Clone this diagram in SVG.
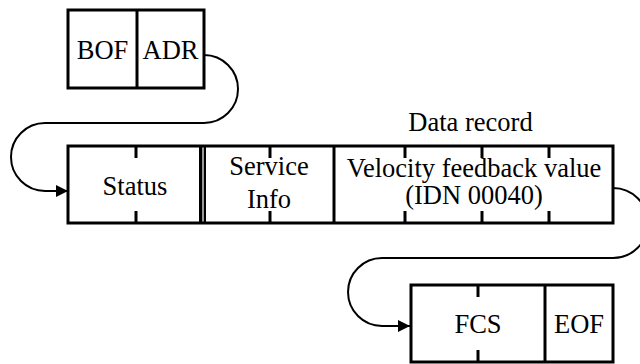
<svg xmlns="http://www.w3.org/2000/svg" width="640" height="364" viewBox="0 0 640 364">
<defs>
<marker id="arr" markerUnits="userSpaceOnUse" markerWidth="12" markerHeight="12" viewBox="0 0 10 10" refX="10" refY="5" orient="auto">
<path d="M0,0 L10,5 L0,10 Z" fill="#000"/>
</marker>
</defs>
<rect width="640" height="364" fill="#fff"/>
<g id="connectors" fill="none" stroke="#000" stroke-width="2">
<path d="M204,55 A34,34 0 0 1 204,123 L45,123 A34,34 0 0 0 45,191 L68,191" marker-end="url(#arr)"/>
<path d="M613,188 A35,35 0 0 1 613,258 L382,258 A34,34 0 0 0 382,326 L410,326" marker-end="url(#arr)"/>
</g>
<g id="top-frame">
<g stroke="#000" stroke-width="3">
<rect x="68" y="10" width="136" height="78" fill="#fff"/>
<line x1="137" y1="10" x2="137" y2="88"/>
</g>
<g font-family="Liberation Serif" font-size="26.5" text-anchor="middle" fill="#000">
<text x="102.5" y="59">BOF</text>
<text x="170.5" y="59">ADR</text>
</g>
</g>
<g id="data-record-label" font-family="Liberation Serif" font-size="26.5" text-anchor="middle" fill="#000">
<text x="470.5" y="131">Data record</text>
</g>
<g id="middle-frame">
<g stroke="#000" stroke-width="3">
<rect x="68" y="146" width="545" height="77" fill="#fff"/>
<line x1="334" y1="146" x2="334" y2="223"/>
<line x1="136" y1="146" x2="136" y2="158"/>
<line x1="136" y1="211" x2="136" y2="223"/>
<line x1="270" y1="146" x2="270" y2="158"/>
<line x1="270" y1="211" x2="270" y2="223"/>
<line x1="405" y1="146" x2="405" y2="158"/>
<line x1="405" y1="211" x2="405" y2="223"/>
<line x1="482" y1="146" x2="482" y2="158"/>
<line x1="482" y1="211" x2="482" y2="223"/>
<line x1="549" y1="146" x2="549" y2="158"/>
<line x1="549" y1="211" x2="549" y2="223"/>
<rect x="199" y="146" width="7" height="77" fill="#000" stroke="none"/>
<rect x="202" y="147.5" width="2" height="74" fill="#999" stroke="none"/>
</g>
<g font-family="Liberation Serif" font-size="26.5" text-anchor="middle" fill="#000">
<text x="135" y="195">Status</text>
<text x="269" y="175">Service</text>
<text x="269" y="208">Info</text>
<text x="474" y="177">Velocity feedback value</text>
<text x="474" y="204">(IDN 00040)</text>
</g>
</g>
<g id="bottom-frame">
<g stroke="#000" stroke-width="3">
<rect x="411" y="285" width="202" height="77" fill="#fff"/>
<line x1="545" y1="285" x2="545" y2="362"/>
<line x1="478" y1="285" x2="478" y2="297"/>
<line x1="478" y1="350" x2="478" y2="362"/>
</g>
<g font-family="Liberation Serif" font-size="26.5" text-anchor="middle" fill="#000">
<text x="478" y="333">FCS</text>
<text x="579" y="333">EOF</text>
</g>
</g>
</svg>
